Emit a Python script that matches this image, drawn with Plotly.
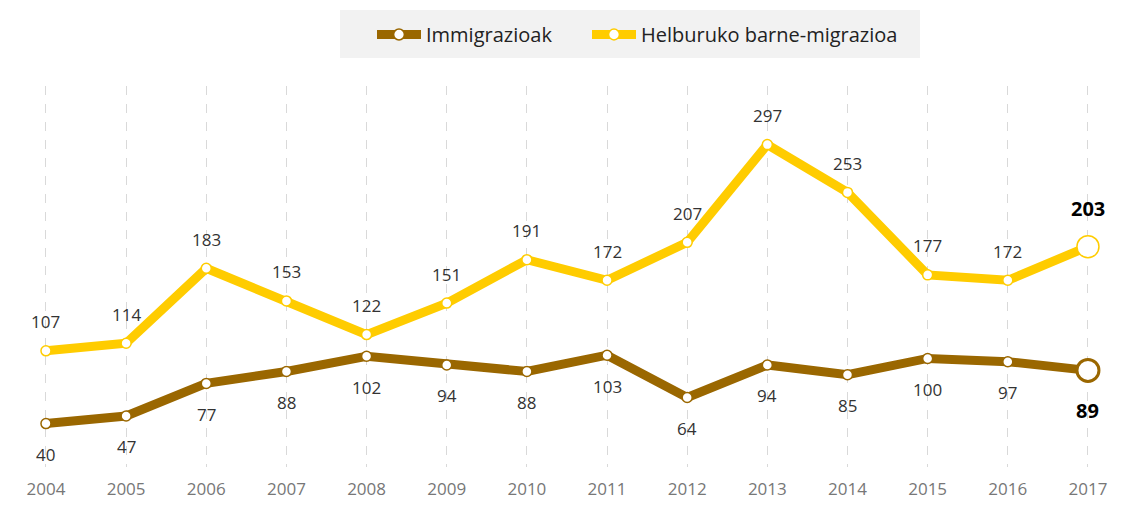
import plotly.graph_objects as go

years = list(range(2004, 2018))
immigrazioak = [40, 47, 77, 88, 102, 94, 88, 103, 64, 94, 85, 100, 97, 89]
barne_migrazioa = [107, 114, 183, 153, 122, 151, 191, 172, 207, 297, 253, 177, 172, 203]
tick_labels = [str(y) for y in years]

BROWN = "#9A6700"
YELLOW = "#FFCC00"
FONT = "Open Sans"

W, H = 1118, 523
L, R, T, B = 12, 12, 78, 64
PW, PH = W - L - R, H - T - B

fig = go.Figure()

def add_series(name, vals, color, legend, last_ring):
    sizes = [10] * (len(vals) - 1) + [22]
    rings = [1.5] * (len(vals) - 1) + [last_ring]
    fig.add_trace(go.Scatter(
        x=years, y=vals, name=name, mode="lines+markers", legend=legend,
        line=dict(color=color, width=9),
        marker=dict(size=sizes, color="white", opacity=1,
                    line=dict(color=color, width=rings)),
        hoverinfo="x+y",
    ))

add_series("Immigrazioak", immigrazioak, BROWN, "legend", 3)
add_series("Helburuko barne-migrazioa", barne_migrazioa, YELLOW, "legend2", 1.5)

annotations = []
n = len(years)
for i, (yr, v) in enumerate(zip(years, barne_migrazioa)):
    last = i == n - 1
    annotations.append(dict(
        x=yr, y=v, text=f"<b>{v}</b>" if last else str(v), showarrow=False,
        yshift=38 if last else 29,
        font=dict(family=FONT, size=20 if last else 17, color="#000" if last else "#333"),
    ))
for i, (yr, v) in enumerate(zip(years, immigrazioak)):
    last = i == n - 1
    annotations.append(dict(
        x=yr, y=v, text=f"<b>{v}</b>" if last else str(v), showarrow=False,
        yshift=-40 if last else -31,
        font=dict(family=FONT, size=20 if last else 17, color="#000" if last else "#333"),
    ))

# grey legend background box (page px -> figure px -> paper coords)
def px_to_paper_x(px):
    return (px - 8 - L) / PW

def px_to_paper_y(py):
    return (H - B - (py - 8)) / PH

shapes = [dict(
    type="rect", xref="paper", yref="paper", layer="below",
    x0=px_to_paper_x(340), x1=px_to_paper_x(920),
    y0=px_to_paper_y(58), y1=px_to_paper_y(10),
    fillcolor="#F2F2F2", line=dict(width=0),
)]

leg_common = dict(
    orientation="h", xref="container", yref="container", xanchor="left",
    yanchor="top", y=1 - 7 / H, bgcolor="rgba(0,0,0,0)", borderwidth=0,
    font=dict(size=20, color="#222", family=FONT), itemwidth=44,
)

fig.update_layout(
    width=W, height=H,
    margin=dict(l=L, r=R, t=T, b=B, autoexpand=False),
    paper_bgcolor="white", plot_bgcolor="white",
    font=dict(family=FONT, color="#333"),
    showlegend=True,
    legend=dict(x=(372 - 8) / W, **leg_common),
    legend2=dict(x=(587 - 8) / W, **leg_common),
    annotations=annotations,
    shapes=shapes,
    xaxis=dict(
        range=[2003.676, 2017.325], tickmode="array", tickvals=years, ticktext=tick_labels,
        showgrid=True, gridcolor="#D9D9D9", griddash="dash", gridwidth=1,
        zeroline=False, showline=False, ticks="", automargin=False,
        tickfont=dict(size=17, color="#777", family=FONT), ticklabelstandoff=10,
    ),
    yaxis=dict(range=[0, 351], visible=False, showgrid=False, zeroline=False, automargin=False),
)

fig.write_html("out.html")
